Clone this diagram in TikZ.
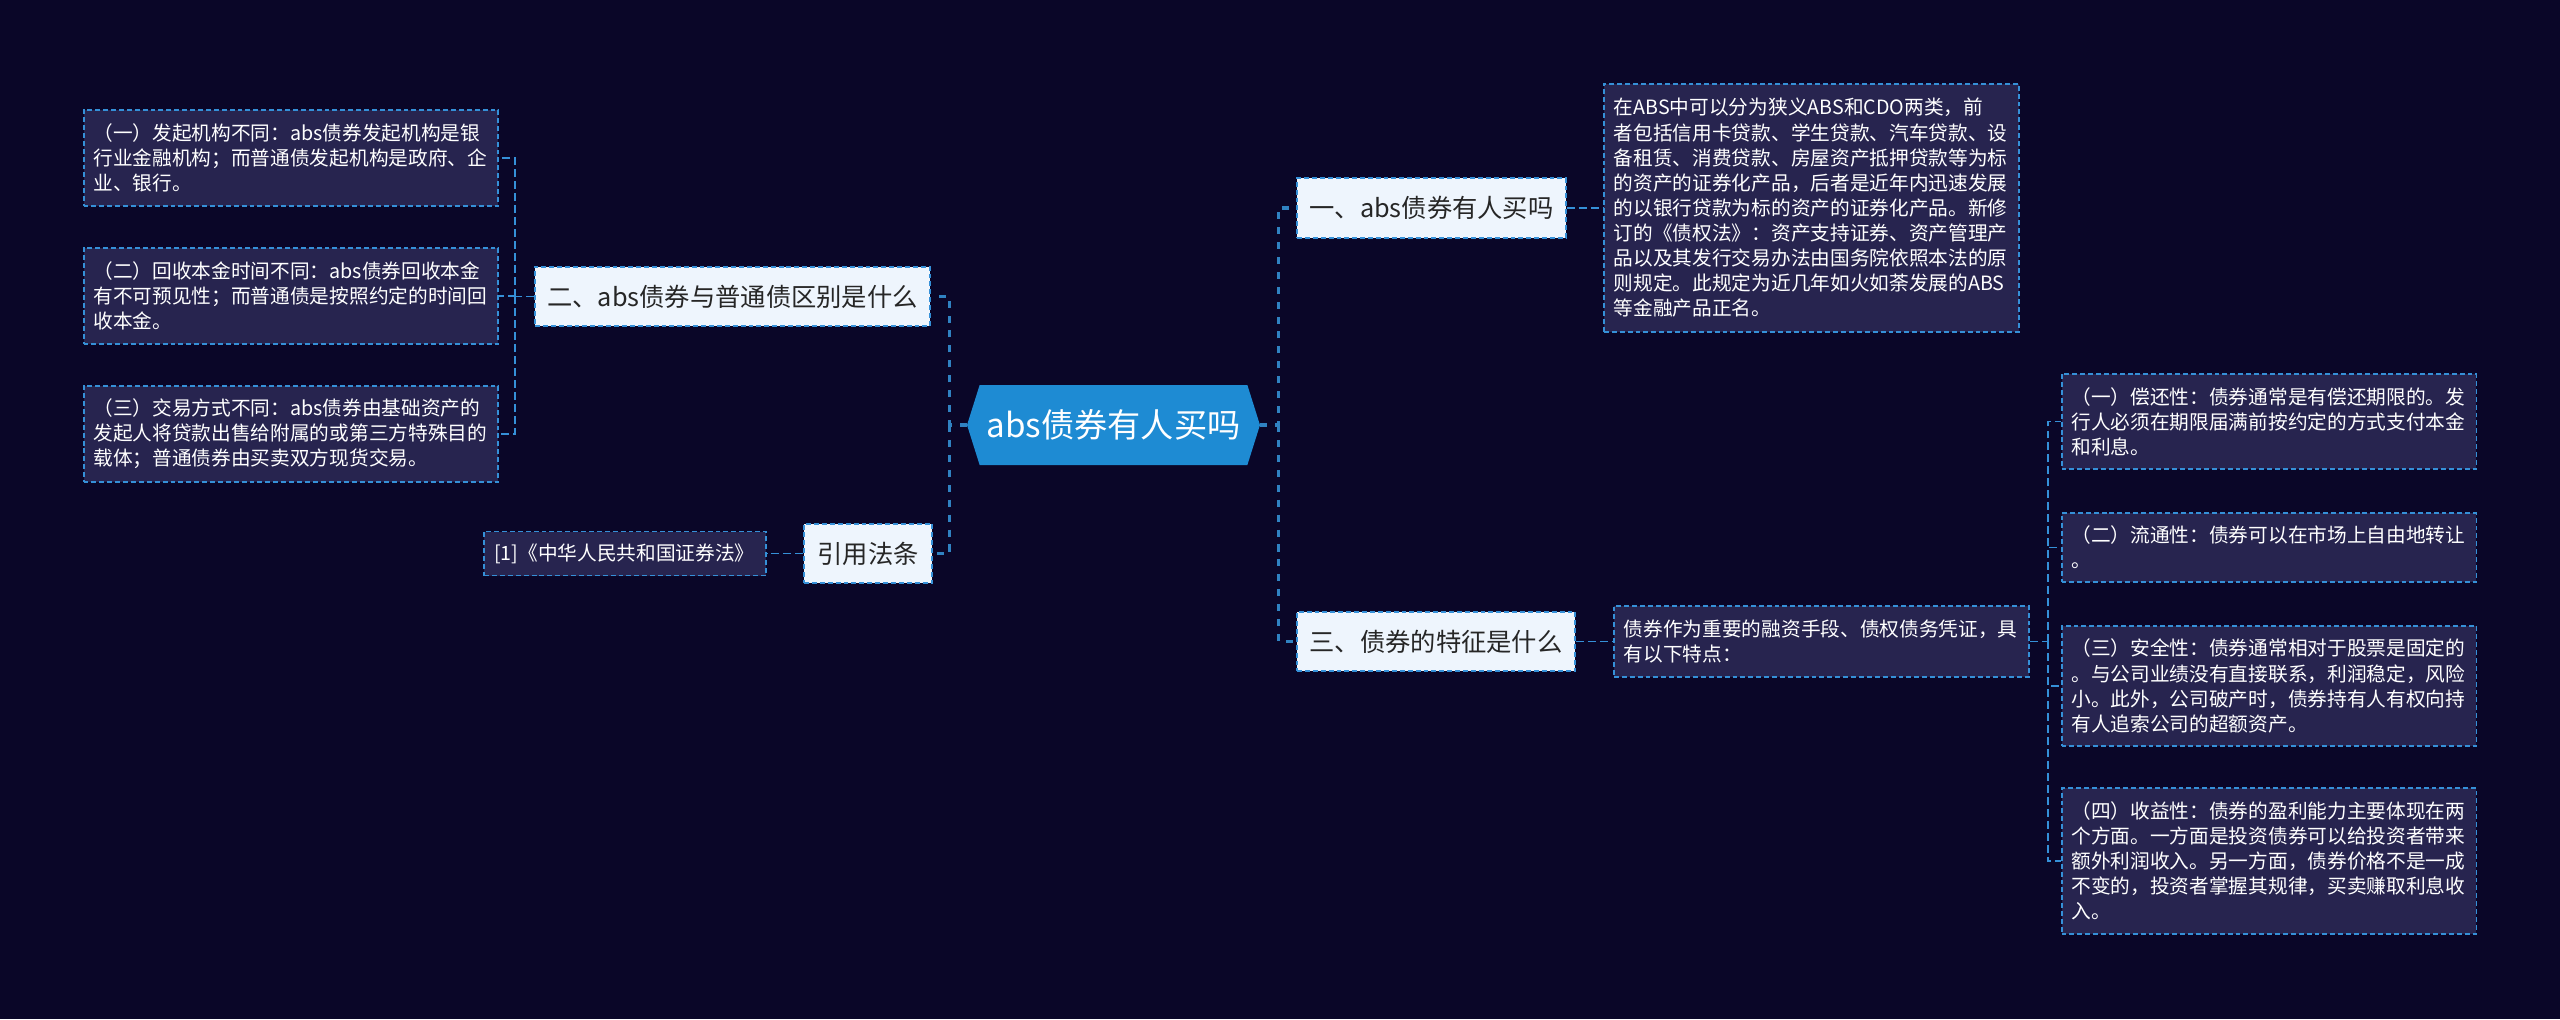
\documentclass[tikz,border=0pt]{standalone}
\usepackage{fontspec}
\usepackage{xcolor}
\usepackage{tikz}
\usetikzlibrary{positioning, shapes.symbols}
\newfontfamily\cjk{Noto Sans CJK SC}
\definecolor{bgnavy}{HTML}{0A0628}
\definecolor{leaffill}{HTML}{27244F}
\definecolor{linkblue}{HTML}{3590D8}
\definecolor{topicfill}{HTML}{EEF5FD}
\definecolor{rootfill}{HTML}{1E8BD3}

\begin{document}
\begin{tikzpicture}[
  x=0.02cm, y=-0.02cm,
  every node/.style={font=\cjk},
  link/.style={draw=linkblue, line width=1.1pt, dash pattern=on 4.5pt off 2.3pt},
  trunk/.style={draw=linkblue!90!black, line width=1.9pt, dash pattern=on 4pt off 4.5pt},
  border/.style={draw=linkblue, line width=1.1pt, dash pattern=on 2.8pt off 1.7pt},
  rootbox/.style={signal, signal to=west and east, signal pointer angle=145,
                  fill=rootfill, text=white, minimum width=5.86cm, minimum height=1.6cm,
                  inner sep=0pt, font=\cjk\fontsize{18.9}{22}\selectfont},
  topic/.style={border, fill=topicfill, text=black!85, minimum height=1.19cm,
                inner xsep=0pt, font=\cjk\fontsize{14.4}{17}\selectfont},
  leaf/.style={border, fill=leaffill, text=white, align=left, text width=7.9cm,
               inner xsep=0.2cm, inner ysep=0pt, font=\cjk\fontsize{11.2}{14.3}\selectfont},
]
  \fill[bgnavy] (0,0) rectangle (2560,1019);

  % Centre and main topics
  \node[rootbox] (root) at (1113.5,425) {abs债券有人买吗};
  \node[topic, minimum width=5.38cm] (buy) at (1431.5,208) {一、abs债券有人买吗};
  \node[topic, minimum width=5.56cm] (feat) at (1436,641.5) {三、债券的特征是什么};
  \node[topic, minimum width=7.9cm] (diff) at (732.5,296.5) {二、abs债券与普通债区别是什么};
  \node[topic, minimum width=2.56cm] (cite) at (868,553.5) {引用法条};

  % Leaves, right side
  \node[leaf, minimum height=4.96cm, right=0.72cm of buy] (buytxt)
    {在ABS中可以分为狭义ABS和CDO两类，前\\者包括信用卡贷款、学生贷款、汽车贷款、设\\备租赁、消费贷款、房屋资产抵押贷款等为标\\的资产的证券化产品，后者是近年内迅速发展\\的以银行贷款为标的资产的证券化产品。新修\\订的《债权法》：资产支持证券、资产管理产\\品以及其发行交易办法由国务院依照本法的原\\则规定。此规定为近几年如火如荼发展的ABS\\等金融产品正名。};
  \node[leaf, minimum height=1.42cm, right=0.74cm of feat] (feattxt)
    {债券作为重要的融资手段、债权债务凭证，具\\有以下特点：};
  \node[leaf, minimum height=1.9cm] (feata) at (2269,421.5)
    {（一）偿还性：债券通常是有偿还期限的。发\\行人必须在期限届满前按约定的方式支付本金\\和利息。};
  \node[leaf, minimum height=1.38cm] (featb) at (2269,547.5)
    {（二）流通性：债券可以在市场上自由地转让\\。};
  \node[leaf, minimum height=2.4cm] (featc) at (2269,686)
    {（三）安全性：债券通常相对于股票是固定的\\。与公司业绩没有直接联系，利润稳定，风险\\小。此外，公司破产时，债券持有人有权向持\\有人追索公司的超额资产。};
  \node[leaf, minimum height=2.92cm] (featd) at (2269,861)
    {（四）收益性：债券的盈利能力主要体现在两\\个方面。一方面是投资债券可以给投资者带来\\额外利润收入。另一方面，债券价格不是一成\\不变的，投资者掌握其规律，买卖赚取利息收\\入。};

  % Leaves, left side
  \node[leaf, minimum height=1.92cm] (diffa) at (291,158)
    {（一）发起机构不同：abs债券发起机构是银\\行业金融机构；而普通债发起机构是政府、企\\业、银行。};
  \node[leaf, minimum height=1.92cm] (diffb) at (291,296)
    {（二）回收本金时间不同：abs债券回收本金\\有不可预见性；而普通债是按照约定的时间回\\收本金。};
  \node[leaf, minimum height=1.92cm] (diffc) at (291,434)
    {（三）交易方式不同：abs债券由基础资产的\\发起人将贷款出售给附属的或第三方特殊目的\\载体；普通债券由买卖双方现货交易。};
  \node[leaf, text width=5.24cm, minimum height=0.88cm, left=0.72cm of cite] (citetxt)
    {[1]《中华人民共和国证券法》};

  % Connectors
  \draw[trunk] (root.west) -- ++(-17,0) coordinate (jl) |- (diff.east);
  \draw[trunk] (jl) |- (cite.east);
  \draw[trunk] (root.east) -- ++(18,0) coordinate (jr) |- (buy.west);
  \draw[trunk] (jr) |- (feat.west);
  \draw[link] (buy) -- (buytxt);
  \draw[link] (feat) -- (feattxt);
  \draw[link] (feattxt.east) -- ++(18,0) coordinate (jf);
  \foreach \n in {feata,featb,featc,featd}
    \draw[link] (jf) |- (\n.west);
  \draw[link] (diff.west) -- ++(-19,0) coordinate (jd);
  \foreach \n in {diffa,diffb,diffc}
    \draw[link] (jd) |- (\n.east);
  \draw[link] (cite) -- (citetxt);
\end{tikzpicture}
\end{document}
